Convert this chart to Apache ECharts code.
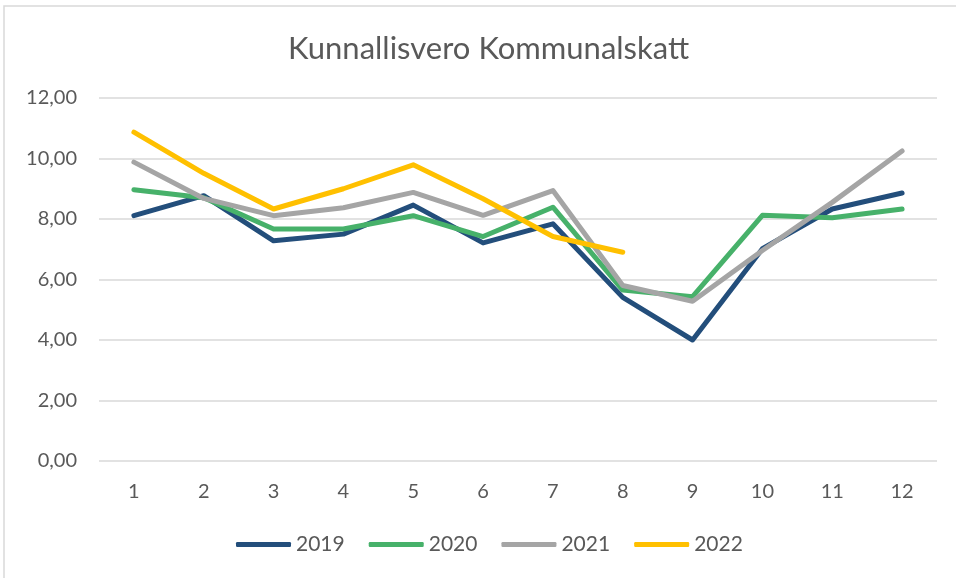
<!DOCTYPE html>
<html>
<head>
<meta charset="utf-8">
<script src="https://cdn.jsdelivr.net/npm/echarts@6/dist/echarts.min.js"></script>
<style>
html, body { margin: 0; padding: 0; background: #fff; }
#chart { width: 956px; height: 578px; }
</style>
</head>
<body>
<div id="chart"></div>
<script>
// kuukaudet
var months = ['1', '2', '3', '4', '5', '6', '7', '8', '9', '10', '11', '12'];
var years = ['2019', '2020', '2021', '2022'];
var colors = ['#234e7b', '#47b16a', '#a5a5a5', '#ffc000'];

var v2019 = [8.11, 8.77, 7.28, 7.50, 8.46, 7.21, 7.84, 5.41, 4.00, 7.02, 8.33, 8.86];
var v2020 = [8.97, 8.70, 7.67, 7.67, 8.11, 7.42, 8.39, 5.65, 5.43, 8.12, 8.04, 8.33];
var v2021 = [9.88, 8.68, 8.11, 8.37, 8.88, 8.12, 8.94, 5.80, 5.28, 6.96, 8.55, 10.25];
var v2022 = [10.87, 9.51, 8.33, 9.00, 9.79, 8.67, 7.42, 6.90];

var values = [v2019, v2020, v2021, v2022];

var chart = echarts.init(document.getElementById('chart'));

var series = years.map(function (y, i) {
	return {
		name: y,
		type: 'line',
		data: values[i],
		symbol: 'none',
		smooth: false,
		lineStyle: { width: 5, color: colors[i], cap: 'round', join: 'round' },
		itemStyle: { color: colors[i] }
	};
});

var option = {
	backgroundColor: '#fff',
	animation: false,
	title: {
		text: 'Kunnallisvero Kommunalskatt',
		left: 283,
		top: 28,
		textStyle: { fontFamily: 'Lato', fontSize: 31, fontWeight: 'normal', color: '#595959' }
	},
	graphic: [{
		type: 'rect',
		shape: { x: 4, y: 6, width: 1000, height: 700 },
		style: { fill: 'none', stroke: '#d9d9d9', lineWidth: 1.5 },
		silent: true
	}],
	legend: {
		data: years,
		bottom: 18,
		left: 231,
		itemWidth: 55,
		itemHeight: 5,
		itemGap: 24,
		icon: 'roundRect',
		textStyle: { fontFamily: 'Lato', fontSize: 21, color: '#595959' }
	},
	grid: {
		left: 99,
		right: 19,
		top: 98,
		bottom: 117
	},
	xAxis: {
		type: 'category',
		data: months,
		boundaryGap: true,
		axisLine: { show: false },
		axisTick: { show: false },
		axisLabel: { fontFamily: 'Lato', fontSize: 20, color: '#595959', margin: 21 }
	},
	yAxis: {
		type: 'value',
		min: 0,
		max: 12,
		interval: 2,
		axisLine: { show: false },
		axisTick: { show: false },
		splitLine: { lineStyle: { color: '#d9d9d9', width: 1.5 } },
		axisLabel: {
			fontFamily: 'Lato', fontSize: 20, color: '#595959', margin: 22,
			formatter: function (v) { return v.toFixed(2).replace('.', ','); }
		}
	},
	series: series
};

chart.setOption(option);
</script>
</body>
</html>
